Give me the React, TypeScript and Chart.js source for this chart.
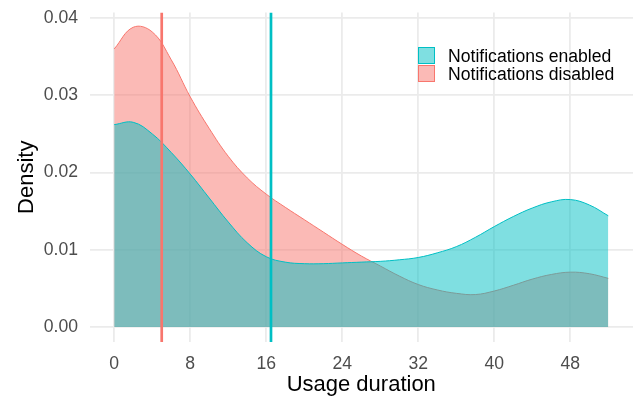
import React, { useEffect, useRef } from "react";
import { Chart, registerables } from "chart.js";

Chart.register(...registerables);

const usageDuration = [0, 2, 4, 6, 8, 10, 12, 14, 16, 18, 20, 22, 24, 26, 28, 30, 32, 34, 36, 38, 40, 42, 44, 46, 48, 50, 52];
const densityEnabled = [0.0262, 0.0265, 0.025, 0.0226, 0.0198, 0.0167, 0.0136, 0.0109, 0.0091, 0.0084, 0.0082, 0.0082, 0.0083, 0.0084, 0.0085, 0.0087, 0.009, 0.0096, 0.0104, 0.0116, 0.013, 0.0143, 0.0154, 0.0162, 0.0165, 0.0158, 0.0144];
const densityDisabled = [0.036, 0.0388, 0.0382, 0.0346, 0.0298, 0.0257, 0.0221, 0.0193, 0.0172, 0.0155, 0.0139, 0.0123, 0.0107, 0.0092, 0.0079, 0.0066, 0.0055, 0.0048, 0.00436, 0.0042, 0.00466, 0.0054, 0.0062, 0.0068, 0.0071, 0.0069, 0.0063];
const seriesLabels = ["Notifications enabled", "Notifications disabled"];
const seriesColors = ["#00BFC4", "#F8766D"];
const seriesFills = ["rgba(0,191,196,0.5)", "rgba(248,118,109,0.5)"];
const meanDuration = [16.5, 5.0];
const xTicks = [0, 8, 16, 24, 32, 40, 48];
const yTicks = [0, 0.01, 0.02, 0.03, 0.04];
const xRange = [-2.6, 54.6];
const yRange = [-0.00194, 0.0407];
const xTitle = "Usage duration";
const yTitle = "Density";

const FONT = '"Liberation Sans", Arial, Helvetica, sans-serif';

const overlay = {
  id: "overlay",
  afterDraw(chart: any) {
    const ctx = chart.ctx as CanvasRenderingContext2D;
    const a = chart.chartArea;
    ctx.save();
    ctx.fillStyle = "#000000";
    ctx.font = `22px ${FONT}`;
    ctx.textAlign = "center";
    ctx.textBaseline = "alphabetic";
    ctx.fillText(xTitle, (a.left + a.right) / 2, 391);
    ctx.save();
    ctx.translate(33, (a.top + a.bottom) / 2);
    ctx.rotate(-Math.PI / 2);
    ctx.fillText(yTitle, 0, 0);
    ctx.restore();

    // legend
    ctx.font = `17.6px ${FONT}`;
    ctx.textAlign = "left";
    const boxX = 418.5;
    const boxTops = [47.5, 65.5];
    const baselines = [62.3, 80];
    for (let i = 0; i < seriesLabels.length; i++) {
      ctx.fillStyle = "#ffffff";
      ctx.fillRect(boxX, boxTops[i], 16, 16);
      ctx.fillStyle = seriesFills[i];
      ctx.fillRect(boxX, boxTops[i], 16, 16);
      ctx.strokeStyle = seriesColors[i];
      ctx.lineWidth = 1;
      ctx.strokeRect(boxX, boxTops[i], 16, 16);
      ctx.fillStyle = "#000000";
      ctx.fillText(seriesLabels[i], 448, baselines[i]);
    }
    ctx.restore();
  },
};

export default function App() {
  const ref = useRef<HTMLCanvasElement | null>(null);

  useEffect(() => {
    document.body.style.margin = "0";
    const canvas = ref.current;
    if (!canvas) return;

    const enabledPts = usageDuration.map((x, i) => ({ x, y: densityEnabled[i] }));
    const disabledPts = usageDuration.map((x, i) => ({ x, y: densityDisabled[i] }));
    const meanLine = (m: number) => [
      { x: m, y: yRange[0] },
      { x: m, y: yRange[1] },
    ];

    const chart = new Chart(canvas, {
      type: "line",
      data: {
        datasets: [
          {
            label: "mean disabled",
            data: meanLine(meanDuration[1]),
            borderColor: seriesColors[1],
            borderWidth: 2.7,
            pointRadius: 0,
            fill: false,
            order: 0,
          },
          {
            label: "mean enabled",
            data: meanLine(meanDuration[0]),
            borderColor: seriesColors[0],
            borderWidth: 2.7,
            pointRadius: 0,
            fill: false,
            order: 0,
          },
          {
            label: seriesLabels[0],
            data: enabledPts,
            borderColor: seriesColors[0],
            backgroundColor: seriesFills[0],
            borderWidth: 1,
            pointRadius: 0,
            fill: "origin",
            tension: 0.4,
            order: 1,
          },
          {
            label: seriesLabels[1],
            data: disabledPts,
            borderColor: seriesColors[1],
            backgroundColor: seriesFills[1],
            borderWidth: 1,
            pointRadius: 0,
            fill: "origin",
            tension: 0.4,
            order: 2,
          },
        ],
      },
      options: {
        animation: false,
        responsive: false,
        maintainAspectRatio: false,
        devicePixelRatio: 1,
        layout: { padding: { left: 0, right: 5, top: 12.6, bottom: 0 } },
        plugins: {
          legend: { display: false },
          tooltip: { enabled: false },
        },
        scales: {
          x: {
            type: "linear",
            min: xRange[0],
            max: xRange[1],
            afterBuildTicks: (s: any) => {
              s.ticks = xTicks.map((v) => ({ value: v }));
            },
            afterFit: (s: any) => {
              s.height = 57;
              s.paddingLeft = 0;
              s.paddingRight = 0;
            },
            grid: { color: "#EBEBEB", lineWidth: 1.8, drawTicks: false },
            border: { display: false },
            ticks: {
              color: "#4D4D4D",
              font: { family: FONT, size: 17.6 },
              padding: 12,
              maxRotation: 0,
              callback: (v: any) => String(v),
            },
          },
          y: {
            type: "linear",
            min: yRange[0],
            max: yRange[1],
            afterBuildTicks: (s: any) => {
              s.ticks = yTicks.map((v) => ({ value: v }));
            },
            afterFit: (s: any) => {
              s.width = 89.5;
              s.paddingTop = 0;
              s.paddingBottom = 0;
            },
            grid: { color: "#EBEBEB", lineWidth: 1.8, drawTicks: false },
            border: { display: false },
            ticks: {
              color: "#4D4D4D",
              font: { family: FONT, size: 17.6 },
              padding: 11.5,
              callback: (v: any) => Number(v).toFixed(2),
            },
          },
        },
      },
      plugins: [overlay],
    } as any);

    return () => chart.destroy();
  }, []);

  return (
    <div style={{ position: "absolute", left: 0, top: 0, width: 638, height: 399, background: "#fff" }}>
      <canvas ref={ref} width={638} height={399} style={{ width: 638, height: 399, display: "block" }} />
    </div>
  );
}
